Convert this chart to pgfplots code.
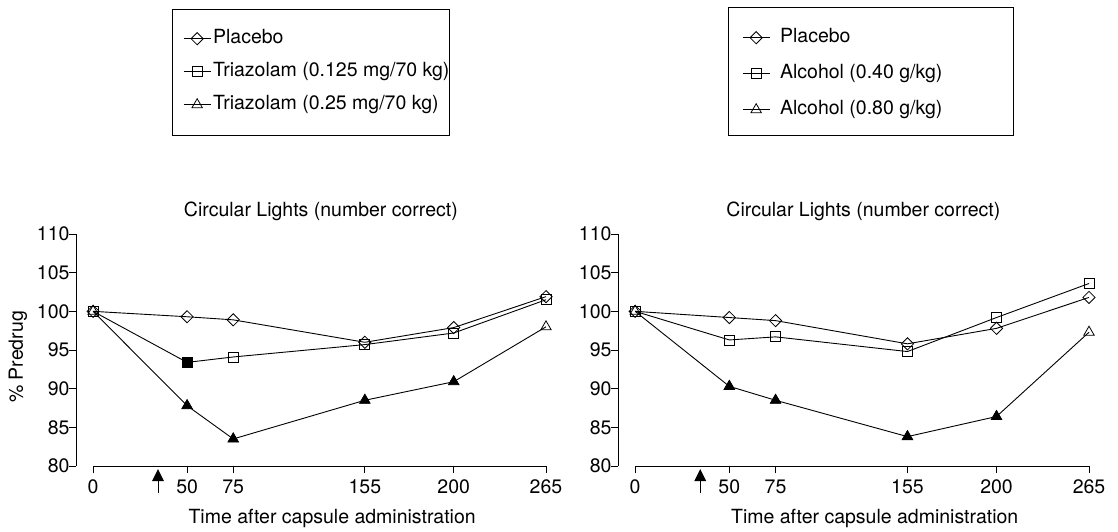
\documentclass[border=0pt]{standalone}
\usepackage{fontspec}
\setmainfont{TeX Gyre Heros}
\usepackage{pgfplots}
\pgfplotsset{compat=1.18}

\pgfplotsset{
  every axis/.append style={font=\fontsize{19.5}{23}\selectfont},
  mystyle/.style={
    scale only axis, width=#1, height=232pt,
    xmin=-10, xmax=265, ymin=80, ymax=110,
    axis x line*=bottom, axis y line*=left,
    x axis line style={draw=none},
    axis line style={line width=0.75pt},
    tick align=outside, major tick length=7pt,
    every tick/.style={black, line width=0.75pt},
    xtick={0,55,82,159,211,265}, xticklabels={0,50,75,155,200,265},
    ytick={80,85,...,110},
    /pgf/number format/assume math mode=true,
    xticklabel style={yshift=-3pt},
    yticklabel style={xshift=4pt},
    clip=false,
    title={Circular Lights (number correct)},
    title style={at={(axis description cs:0.521,1)}, anchor=base, yshift=12pt},
    xlabel={Time after capsule administration},
    xlabel style={at={(axis description cs:0.545,0)}, anchor=base, yshift=-57pt},
    legend cell align=left,
    reverse legend,
    legend image code/.code={\draw[mark repeat=2,mark phase=2] plot coordinates {(0pt,0pt)(13.5pt,0pt)(27pt,0pt)};},
  },
  dia/.style={black, line width=0.9pt, mark=square, mark size=4.3pt, mark options={rotate=45, fill=white, solid, line width=0.8pt}},
  sq/.style={black, line width=0.9pt, mark=square, mark size=5pt, mark options={fill=white, solid, line width=0.8pt}},
  tri/.style={black, line width=0.9pt, mark=triangle, mark size=6pt, mark options={fill=white, solid, line width=0.8pt}},
}

\begin{document}
\begin{tikzpicture}
\useasboundingbox (0,0) rectangle (1118pt,-531pt);

% ---------------- left panel ----------------
\begin{axis}[mystyle=470pt, at={(76pt,-466pt)}, anchor=south west,
  ylabel={\% Predrug},
  ylabel style={at={(axis description cs:-0.1234,0.47)}, anchor=center},
  legend style={draw=none, fill=none, at={(axis description cs:0.2277,1.8815)}, anchor=north west,
    inner sep=0pt, row sep=15pt, column sep=2pt,
    nodes={inner sep=0pt, text height=14pt, text depth=4pt}},
]
\addplot[tri] coordinates {(0,100) (55,87.8) (82,83.5) (159,88.5) (211,90.9) (265,98.0)};
\addlegendentry{Triazolam (0.25 mg/70 kg)}
\addplot[only marks, black, mark=triangle*, mark size=6pt, mark options={fill=black, solid}, forget plot]
  coordinates {(55,87.8) (82,83.5) (159,88.5) (211,90.9)};
\addplot[sq] coordinates {(0,100) (55,93.4) (82,94.1) (159,95.7) (211,97.2) (265,101.5)};
\addlegendentry{Triazolam (0.125 mg/70 kg)}
\addplot[only marks, black, mark=square*, mark size=5pt, mark options={fill=black, solid}, forget plot]
  coordinates {(55,93.4)};
\addplot[dia] coordinates {(0,100) (55,99.3) (82,98.9) (159,96.0) (211,97.9) (265,101.9)};
\addlegendentry{Placebo}
\draw[line width=0.75pt] (axis cs:0,80) -- (axis cs:265,80);
\draw[line width=0.8pt] (axis cs:38,78.2) -- (axis cs:38,76.5);
\fill (axis cs:38,79.6) -- (axis cs:34.5,78.05) -- (axis cs:41.5,78.05) -- cycle;
\end{axis}

% ---------------- right panel ----------------
\begin{axis}[mystyle=471pt, at={(618pt,-466pt)}, anchor=south west,
  legend style={draw=none, fill=none, at={(axis description cs:0.2633,1.8858)}, anchor=north west,
    inner sep=0pt, row sep=18pt, column sep=10pt,
    nodes={inner sep=0pt, text height=14pt, text depth=4pt}},
]
\addplot[tri] coordinates {(0,100) (55,90.3) (82,88.5) (159,83.8) (211,86.4) (265,97.3)};
\addlegendentry{Alcohol (0.80 g/kg)}
\addplot[only marks, black, mark=triangle*, mark size=6pt, mark options={fill=black, solid}, forget plot]
  coordinates {(55,90.3) (82,88.5) (159,83.8) (211,86.4)};
\addplot[sq] coordinates {(0,100) (55,96.3) (82,96.7) (159,94.8) (211,99.2) (265,103.6)};
\addlegendentry{Alcohol (0.40 g/kg)}
\addplot[dia] coordinates {(0,100) (55,99.2) (82,98.8) (159,95.8) (211,97.8) (265,101.8)};
\addlegendentry{Placebo}
\draw[line width=0.75pt] (axis cs:0,80) -- (axis cs:265,80);
\draw[line width=0.8pt] (axis cs:38,78.2) -- (axis cs:38,76.5);
\fill (axis cs:38,79.6) -- (axis cs:34.5,78.05) -- (axis cs:41.5,78.05) -- cycle;
\end{axis}

% legend frames
\draw[line width=0.8pt] (172pt,-9pt) rectangle (449pt,-135pt);
\draw[line width=0.8pt] (728pt,-7pt) rectangle (1013pt,-135pt);
\end{tikzpicture}
\end{document}
